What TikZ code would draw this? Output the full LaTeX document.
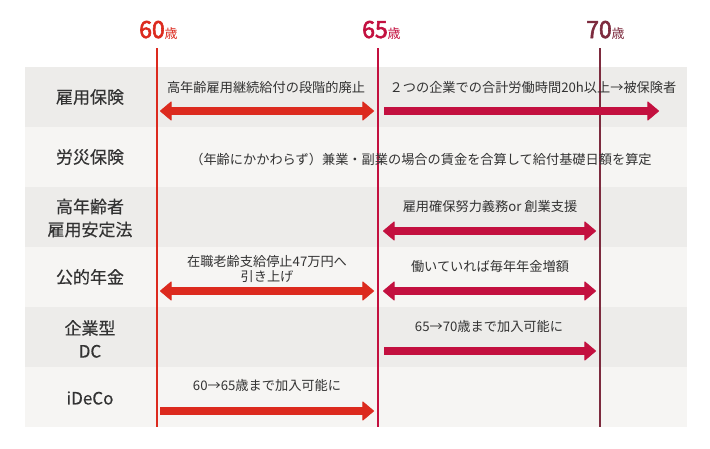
\documentclass[tikz,border=0pt]{standalone}
\usepackage{fontspec}
\setmainfont{Noto Sans CJK JP}
\font\digf="Noto Sans CJK JP:embolden=2.6" at 23pt
\font\labf="Noto Sans CJK JP:embolden=0.3" at 17pt
\newcommand{\labsel}{\labf\baselineskip=23pt\relax}
\usetikzlibrary{arrows.meta}
\definecolor{cA}{HTML}{DC2A1E}
\definecolor{cB}{HTML}{C3103F}
\definecolor{cC}{HTML}{7D2B3E}
\definecolor{rowD}{HTML}{EDECEA}
\definecolor{rowL}{HTML}{F6F5F3}
\definecolor{txt}{HTML}{333333}
\tikzset{
  tipA/.tip={Triangle[width=20pt 0, length=12pt 0, line width=1pt, round]},
  vline/.style={line width=1.5pt},
  hdr/.style={inner sep=0pt, anchor=base west, font=\digf},
  rowlab/.style={text=txt, align=center, inner sep=0pt, font=\labsel},
  note/.style={text=txt, align=center, inner sep=0pt, font=\fontsize{13.2}{15}\selectfont},
  sarr/.style={line width=8pt, -tipA},
  darr/.style={line width=8pt, tipA-tipA},
}
\newcommand{\sai}{{\normalfont\fontsize{13}{13}\selectfont 歳}}
\begin{document}
\begin{tikzpicture}[x=1pt,y=-1pt]
\useasboundingbox (0,0) rectangle (710,448);
\fill[white] (0,0) rectangle (710,448);
% rows
\fill[rowD] (25,67) rectangle (687,127);
\fill[rowL] (25,127) rectangle (687,187);
\fill[rowD] (25,187) rectangle (687,247);
\fill[rowL] (25,247) rectangle (687,307);
\fill[rowD] (25,307) rectangle (687,367);
\fill[rowL] (25,367) rectangle (687,427);
% age lines
\coordinate (v60t) at (157,48); \coordinate (v60b) at (157,427);
\coordinate (v65t) at (378,48); \coordinate (v65b) at (378,427);
\coordinate (v70t) at (600,48); \coordinate (v70b) at (600,427);
\draw[vline, cA] (v60t) -- (v60b);
\draw[vline, cB] (v65t) -- (v65b);
\draw[vline, cC] (v70t) -- (v70b);
% headers
\node[hdr, text=cA] (h60) at (139,38) {60\sai};
\node[hdr, text=cB] (h65) at (362,38) {65\sai};
\node[hdr, text=cC] (h70) at (586,38) {70\sai};
% row labels
\node[rowlab] (r1) at (90,97) {雇用保険};
\node[rowlab] (r2) at (90,157) {労災保険};
\node[rowlab] (r3) at (90,218) {高年齢者\\雇用安定法};
\node[rowlab] (r4) at (90,277) {公的年金};
\node[rowlab] (r5) at (90,339) {企業型\\DC};
\node[rowlab] (r6) at (90,398) {iDeCo};
% notes
\node[note] (t1a) at (266,87) {高年齢雇用継続給付の段階的廃止};
\node[note] (t1b) at (533,87) {２つの企業での合計労働時間20h以上→被保険者};
\node[note] (t2) at (421,159) {（年齢にかかわらず）兼業・副業の場合の賃金を合算して給付基礎日額を算定};
\node[note] (t3) at (490,207) {雇用確保努力義務or 創業支援};
\node[note] (t4a) at (267,269) {在職老齢支給停止47万円へ\\引き上げ};
\node[note] (t4b) at (490,266) {働いていれば毎年年金増額};
\node[note] (t5) at (489,326) {65→70歳まで加入可能に};
\node[note] (t6) at (267,385) {60→65歳まで加入可能に};
% arrows
\coordinate (a1s) at (160,111); \coordinate (a1e) at (374,111);
\coordinate (b1s) at (384,111); \coordinate (b1e) at (659,111);
\coordinate (b3s) at (383,231); \coordinate (b3e) at (596,231);
\coordinate (a4s) at (160,291); \coordinate (a4e) at (374,291);
\coordinate (b4s) at (383,291); \coordinate (b4e) at (596,291);
\coordinate (b5s) at (384,351); \coordinate (b5e) at (596,351);
\coordinate (a6s) at (160,411); \coordinate (a6e) at (374,411);
\draw[darr, cA] (a1s) -- (a1e);
\draw[sarr, cB] (b1s) -- (b1e);
\draw[darr, cB] (b3s) -- (b3e);
\draw[darr, cA] (a4s) -- (a4e);
\draw[darr, cB] (b4s) -- (b4e);
\draw[sarr, cB] (b5s) -- (b5e);
\draw[sarr, cA] (a6s) -- (a6e);
\end{tikzpicture}
\end{document}
